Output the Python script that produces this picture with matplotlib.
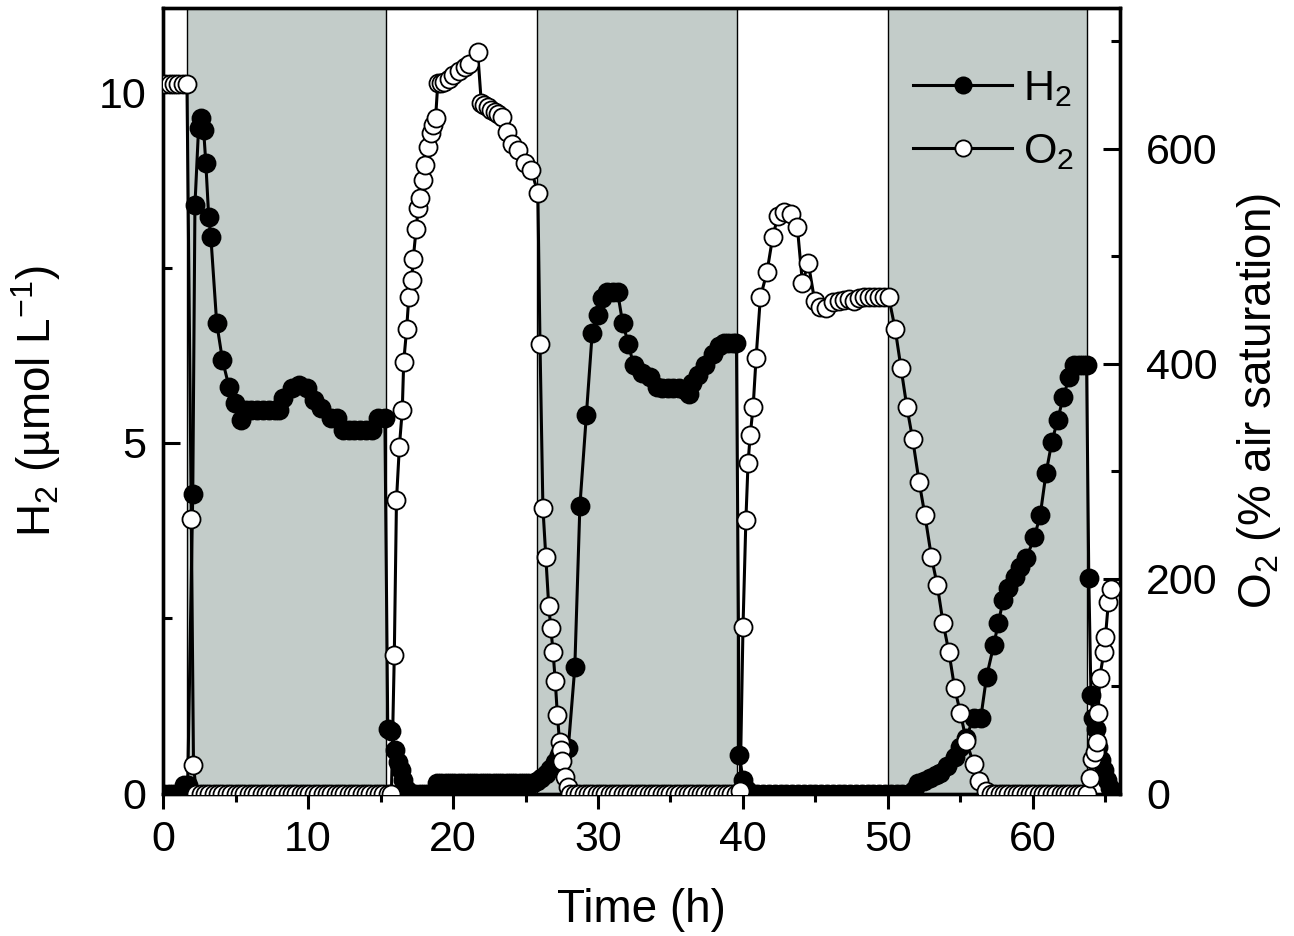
import matplotlib
matplotlib.use("Agg")
import matplotlib.pyplot as plt

plt.rcParams['font.family'] = ['Liberation Sans', 'DejaVu Sans']
plt.rcParams['mathtext.fontset'] = 'custom'
plt.rcParams['mathtext.rm'] = 'Liberation Sans'
plt.rcParams['mathtext.it'] = 'Liberation Sans:italic'

# dark periods (h)
dark_periods = [(1.65, 15.4), (25.8, 39.6), (50.0, 63.7)]

# H2 (umol/L) vs time (h)
h2_time = [0.1, 0.4, 0.7, 1.0, 1.3, 1.45, 1.7,
           2.05, 2.2, 2.45, 2.6, 2.8, 2.95, 3.15, 3.3, 3.7, 4.1, 4.55, 4.95, 5.4,
           5.7, 6.1, 6.5, 6.9, 7.3, 7.7, 8.0, 8.3, 8.9, 9.4, 9.9, 10.4, 10.9, 11.6, 12.0, 12.4,
           12.8, 13.2, 13.6, 14.0, 14.4, 14.8, 15.3,
           15.5, 15.75, 16.0, 16.2, 16.4, 16.55, 16.8,
           17.1, 17.4, 17.7, 18.0, 18.3, 18.6,
           18.9, 19.2, 19.5, 19.8, 20.1, 20.4, 20.7, 21.0, 21.3, 21.6, 21.9, 22.2,
           22.5, 22.8, 23.1, 23.4, 23.7, 24.0, 24.3, 24.6, 24.9, 25.2, 25.5,
           25.8, 26.1, 26.4, 26.7, 27.0, 27.3, 27.6, 27.95, 28.4, 28.75, 29.2, 29.6,
           30.0, 30.25, 30.6, 31.0, 31.35, 31.7, 32.1, 32.45, 33.0, 33.6, 34.05,
           34.4, 34.8, 35.2, 35.6, 36.0, 36.25, 36.5, 36.9, 37.4, 37.9, 38.35, 38.7,
           39.0, 39.3, 39.55,
           39.75, 40.0, 40.3,
           40.6, 41.0, 41.4, 41.8, 42.2, 42.6, 43.0, 43.4, 43.8, 44.2, 44.6, 45.0,
           45.4, 45.8, 46.2, 46.6, 47.0, 47.4, 47.8, 48.2, 48.6, 49.0, 49.4, 49.8,
           50.2, 50.6, 51.0, 51.4,
           51.8, 52.1, 52.5, 52.9, 53.3, 53.6, 54.1, 54.6, 54.95, 55.4, 55.9, 56.4,
           56.8, 57.3, 57.6, 57.95, 58.3, 58.75, 59.1, 59.55, 60.1, 60.5, 60.9, 61.3,
           61.7, 62.1, 62.5, 62.85, 63.15, 63.45, 63.7,
           63.85, 64.0, 64.15, 64.35, 64.5, 64.7, 64.9, 65.1, 65.3]
h2_umol = [0, 0, 0, 0, 0, 0.12, 0.12,
           4.27, 8.39, 9.49, 9.63, 9.46, 8.99, 8.22, 7.93, 6.71, 6.18, 5.8, 5.57, 5.33,
           5.47, 5.47, 5.47, 5.47, 5.47, 5.47, 5.47, 5.64, 5.78, 5.82, 5.78, 5.61, 5.5, 5.36, 5.36, 5.19,
           5.19, 5.19, 5.19, 5.19, 5.19, 5.36, 5.35,
           0.92, 0.9, 0.63, 0.45, 0.34, 0.2, 0.05,
           0, 0, 0, 0, 0, 0,
           0.15, 0.15, 0.15, 0.15, 0.15, 0.15, 0.15, 0.15, 0.15, 0.15, 0.15, 0.15,
           0.15, 0.15, 0.15, 0.15, 0.15, 0.15, 0.15, 0.15, 0.15, 0.15, 0.15,
           0.18, 0.22, 0.28, 0.35, 0.45, 0.55, 0.6, 0.65, 1.8, 4.1, 5.4, 6.57,
           6.82, 7.07, 7.15, 7.15, 7.15, 6.71, 6.41, 6.11, 6.0, 5.94, 5.8,
           5.78, 5.78, 5.78, 5.78, 5.75, 5.7, 5.85, 5.97, 6.11, 6.27, 6.38, 6.42,
           6.42, 6.42, 6.42,
           0.55, 0.2, 0.05,
           0, 0, 0, 0, 0, 0, 0, 0, 0, 0, 0, 0,
           0, 0, 0, 0, 0, 0, 0, 0, 0, 0, 0, 0,
           0, 0, 0, 0,
           0.05, 0.15, 0.18, 0.22, 0.26, 0.3, 0.39, 0.53, 0.67, 0.8, 1.08, 1.08,
           1.67, 2.12, 2.43, 2.76, 2.93, 3.09, 3.23, 3.36, 3.66, 3.97, 4.57, 5.01,
           5.33, 5.66, 5.94, 6.11, 6.11, 6.11, 6.11,
           3.08, 1.41, 1.08, 0.92, 0.67, 0.48, 0.34, 0.2, 0.08]

# O2 (% air saturation) vs time (h)
o2_time = [0.15, 0.45, 0.75, 1.05, 1.35, 1.65, 1.95, 2.1,
           2.3, 2.6, 2.9, 3.2, 3.5, 3.8, 4.1, 4.4, 4.7, 5.0, 5.3, 5.6, 5.9, 6.2, 6.5,
           6.8, 7.1, 7.4, 7.7, 8.0, 8.3, 8.6, 8.9, 9.2, 9.5, 9.8, 10.1, 10.4, 10.7,
           11.0, 11.3, 11.6, 11.9, 12.2, 12.5, 12.8, 13.1, 13.4, 13.7, 14.0, 14.3,
           14.6, 14.9, 15.2, 15.5, 15.75,
           15.95, 16.1, 16.3, 16.5, 16.6, 16.8, 16.95, 17.15, 17.25, 17.45, 17.6, 17.75,
           17.9, 18.1, 18.25, 18.45, 18.6, 18.8, 18.95, 19.2, 19.4, 19.7, 20.0, 20.4,
           20.8, 21.1, 21.7,
           21.95, 22.15, 22.4, 22.65, 22.9, 23.1, 23.35, 23.7, 24.05, 24.5, 24.95, 25.4, 25.85,
           26.0, 26.2, 26.4, 26.6, 26.75, 26.9, 27.05, 27.2, 27.35, 27.45, 27.55, 27.7, 27.9,
           28.1, 28.4, 28.7, 29.0, 29.3, 29.6, 29.9, 30.2, 30.5, 30.8, 31.1, 31.4, 31.7,
           32.0, 32.3, 32.6, 32.9, 33.2, 33.5, 33.8, 34.1, 34.4, 34.7, 35.0, 35.3, 35.6,
           35.9, 36.2, 36.5, 36.8, 37.1, 37.4, 37.7, 38.0, 38.3, 38.6, 38.9, 39.2, 39.5,
           39.8,
           40.0, 40.2, 40.35, 40.5, 40.7, 40.9, 41.2, 41.65, 42.05, 42.4, 42.85, 43.3,
           43.75, 44.1, 44.5, 44.95, 45.3, 45.75, 46.2, 46.6, 46.95, 47.3, 47.65, 48.0,
           48.35, 48.7, 49.05, 49.4, 49.75, 50.05,
           50.5, 50.9, 51.3, 51.7, 52.15, 52.55, 53.0, 53.4, 53.8, 54.2, 54.6, 55.0,
           55.4, 55.9, 56.3, 56.75,
           57.1, 57.4, 57.7, 58.0, 58.3, 58.6, 58.9, 59.2, 59.5, 59.8, 60.1, 60.4,
           60.7, 61.0, 61.3, 61.6, 61.9, 62.2, 62.5, 62.8, 63.1, 63.4, 63.7,
           63.95, 64.1, 64.3, 64.4, 64.5, 64.6, 64.9, 65.0, 65.2, 65.35]
o2_sat = [660, 660, 660, 660, 660, 660, 256, 27,
          0, 0, 0, 0, 0, 0, 0, 0, 0, 0, 0, 0, 0, 0, 0,
          0, 0, 0, 0, 0, 0, 0, 0, 0, 0, 0, 0, 0, 0,
          0, 0, 0, 0, 0, 0, 0, 0, 0, 0, 0, 0,
          0, 0, 0, 0, 0,
          129, 273, 323, 357, 402, 432, 462, 478, 497, 525, 545, 554,
          571, 585, 602, 615, 622, 629, 661, 661, 662, 665, 669, 672,
          676, 679, 690,
          643, 641, 639, 636, 634, 632, 630, 616, 604, 599, 587, 580, 559,
          418, 266, 220, 175, 154, 132, 105, 73, 48, 41, 30, 16, 6,
          0, 0, 0, 0, 0, 0, 0, 0, 0, 0, 0, 0, 0,
          0, 0, 0, 0, 0, 0, 0, 0, 0, 0, 0, 0, 0,
          0, 0, 0, 0, 0, 0, 0, 0, 0, 0, 0, 0, 0,
          3,
          155, 255, 308, 334, 360, 405, 462, 485, 518, 537, 541, 539,
          527, 475, 494, 458, 453, 452, 457, 458, 459, 460, 458, 461,
          462, 462, 462, 462, 462, 462,
          432, 396, 360, 330, 290, 259, 220, 194, 159, 132, 98, 75,
          49, 28, 12, 3,
          0, 0, 0, 0, 0, 0, 0, 0, 0, 0, 0, 0,
          0, 0, 0, 0, 0, 0, 0, 0, 0, 0, 0,
          15, 32, 39, 48, 75, 108, 132, 146, 178, 190]

fig = plt.figure(figsize=(12.94, 9.36), dpi=100)
ax = fig.add_axes([0.126, 0.152, 0.7395, 0.8395])
ax2 = ax.twinx()

for a, b in dark_periods:
    ax.axvspan(a, b, facecolor='#c3ccc9', edgecolor='black', linewidth=1.0, zorder=0)

l1, = ax.plot(h2_time, h2_umol, '-o', color='black', mfc='black', mec='black',
              ms=13, mew=1.3, lw=2.2, label='H$_2$', zorder=3)
l2, = ax2.plot(o2_time, o2_sat, '-o', color='black', mfc='white', mec='black',
               ms=13, mew=1.3, lw=2.2, label='O$_2$', zorder=3)

ax.set_xlim(0, 66)
ax.set_ylim(0, 11.2)
ax2.set_ylim(0, 731)

ax.set_xticks([0, 10, 20, 30, 40, 50, 60])
ax.set_xticks([5, 15, 25, 35, 45, 55, 65], minor=True)
ax.set_yticks([0, 5, 10])
ax.set_yticks([2.5, 7.5], minor=True)
ax2.set_yticks([0, 200, 400, 600])
ax2.set_yticks([100, 300, 500, 700], minor=True)

ax.tick_params(axis='x', which='major', direction='out', length=11, width=2.2, labelsize=31, pad=8)
ax.tick_params(axis='x', which='minor', direction='out', length=5.5, width=2.2)
ax.tick_params(axis='y', which='major', direction='in', length=12, width=2.2, labelsize=31, pad=12)
ax.tick_params(axis='y', which='minor', direction='in', length=6.5, width=2.2)
ax2.tick_params(axis='y', which='major', direction='in', length=12, width=2.2, labelsize=31, pad=19)
ax2.tick_params(axis='y', which='minor', direction='in', length=6.5, width=2.2)

for a in (ax, ax2):
    for s in a.spines.values():
        s.set_linewidth(2.4)

ax.set_xlabel('Time (h)', fontsize=33, labelpad=20)
ax.set_ylabel('H$_2$ (µmol L$^{-1}$)', fontsize=33, labelpad=26)
ax2.set_ylabel('O$_2$ (% air saturation)', fontsize=33, labelpad=12)

ax2.legend(handles=[l1, l2], loc='upper right', bbox_to_anchor=(0.952, 0.922),
           frameon=False, fontsize=31, handlelength=2.3, handletextpad=0.25,
           labelspacing=0.52, borderaxespad=0, borderpad=0, markerscale=0.9)

fig.savefig('out.png', dpi=100)
